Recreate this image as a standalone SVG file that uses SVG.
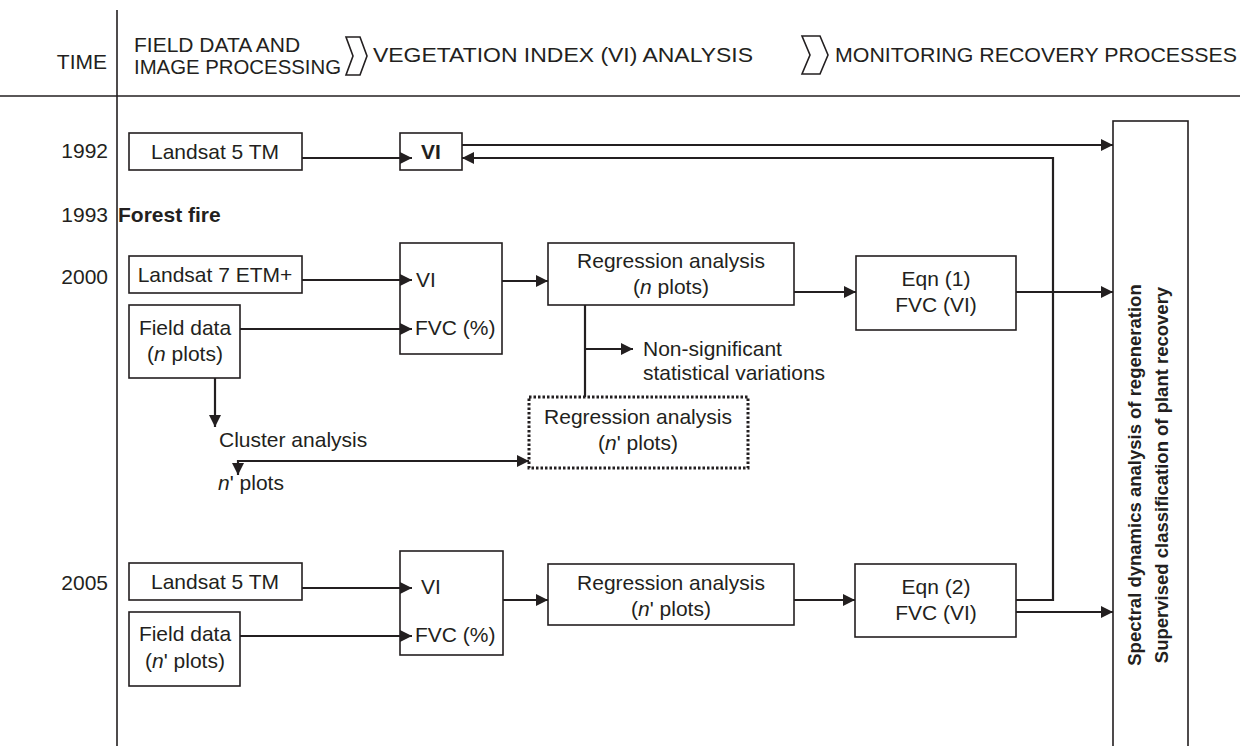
<svg xmlns="http://www.w3.org/2000/svg" width="1246" height="746" viewBox="0 0 1246 746">
<defs>
<marker id="ah" viewBox="0 0 12 12" refX="12" refY="6" markerWidth="12" markerHeight="12" markerUnits="userSpaceOnUse" orient="auto"><path d="M0,0 L12,6 L0,12 z" fill="#231f20"/></marker>
</defs>
<style>
text{font-family:"Liberation Sans",Arial,sans-serif;font-size:21px;fill:#231f20}
.b{font-weight:bold}
.m{text-anchor:middle}
.e{text-anchor:end}
.rot{font-size:18.5px;font-weight:bold;text-anchor:middle}
.box{fill:#fff;stroke:#231f20;stroke-width:1.6}
.dot{fill:#fff;stroke:#231f20;stroke-width:3;stroke-dasharray:2.5 2}
.ln{fill:none;stroke:#231f20;stroke-width:2.2}
.ar{fill:none;stroke:#231f20;stroke-width:2.2;marker-end:url(#ah)}
.rule{fill:none;stroke:#231f20;stroke-width:1.6}
</style>
<rect width="1246" height="746" fill="#fff"/>
<g id="header">
<line class="rule" x1="117" y1="10" x2="117" y2="746"/>
<line class="rule" x1="0" y1="96" x2="1240" y2="96"/>
<text class="e" x="107" y="69">TIME</text>
<text x="134" y="52">FIELD DATA AND</text>
<text x="134" y="74" textLength="207" lengthAdjust="spacingAndGlyphs">IMAGE PROCESSING</text>
<polygon class="rule" points="346,37 360,37 367,56 360,75 346,75 353,56"/>
<text x="373" y="62" textLength="380" lengthAdjust="spacingAndGlyphs">VEGETATION INDEX (VI) ANALYSIS</text>
<polygon class="rule" points="802,36 820,36 828,55 820,74 802,74 810,55"/>
<text x="835" y="62" textLength="402" lengthAdjust="spacingAndGlyphs">MONITORING RECOVERY PROCESSES</text>
</g>
<g id="years">
<text class="e" x="108" y="158">1992</text>
<text class="e" x="108" y="222">1993</text>
<text class="b" x="118" y="222">Forest fire</text>
<text class="e" x="108" y="284">2000</text>
<text class="e" x="108" y="590">2005</text>
</g>
<g id="landsat5-1992"><rect class="box" x="129" y="133" width="173" height="37"/><text class="m" x="215" y="159">Landsat 5 TM</text></g>
<g id="vi-1992"><rect class="box" x="400" y="133" width="62" height="37"/><text class="m b" x="431" y="159">VI</text></g>
<g id="landsat7-2000"><rect class="box" x="129" y="256" width="173" height="37"/><text class="m" x="215" y="282">Landsat 7 ETM+</text></g>
<g id="field-2000"><rect class="box" x="129" y="305" width="111" height="73"/><text class="m" x="185" y="335">Field data</text><text class="m" x="185" y="361">(<tspan font-style="italic">n</tspan> plots)</text></g>
<g id="vifvc-2000"><rect class="box" x="400" y="243" width="102" height="111"/><text x="416" y="287">VI</text><text x="415" y="335">FVC (%)</text></g>
<g id="reg-2000"><rect class="box" x="548" y="243" width="246" height="62"/><text class="m" x="671" y="268">Regression analysis</text><text class="m" x="671" y="294">(<tspan font-style="italic">n</tspan> plots)</text></g>
<g id="eqn1"><rect class="box" x="856" y="256" width="160" height="74"/><text class="m" x="936" y="286">Eqn (1)</text><text class="m" x="936" y="312">FVC (VI)</text></g>
<g id="nonsig"><text x="643" y="356">Non-significant</text><text x="643" y="380">statistical variations</text></g>
<g id="cluster"><text x="219" y="447">Cluster analysis</text></g>
<g id="nprime"><text x="218" y="490"><tspan font-style="italic">n</tspan>' plots</text></g>
<g id="reg-dotted"><rect class="dot" x="529" y="397" width="219" height="71"/><text class="m" x="638" y="424">Regression analysis</text><text class="m" x="638" y="450">(<tspan font-style="italic">n</tspan>' plots)</text></g>
<g id="landsat5-2005"><rect class="box" x="129" y="563" width="173" height="37"/><text class="m" x="215" y="589">Landsat 5 TM</text></g>
<g id="field-2005"><rect class="box" x="129" y="612" width="111" height="74"/><text class="m" x="185" y="641">Field data</text><text class="m" x="185" y="668">(<tspan font-style="italic">n</tspan>' plots)</text></g>
<g id="vifvc-2005"><rect class="box" x="400" y="551" width="103" height="104"/><text x="421" y="594">VI</text><text x="415" y="642">FVC (%)</text></g>
<g id="reg-2005"><rect class="box" x="548" y="564" width="246" height="61"/><text class="m" x="671" y="590">Regression analysis</text><text class="m" x="671" y="616">(<tspan font-style="italic">n</tspan>' plots)</text></g>
<g id="eqn2"><rect class="box" x="855" y="564" width="161" height="73"/><text class="m" x="936" y="594">Eqn (2)</text><text class="m" x="936" y="620">FVC (VI)</text></g>
<g id="monitoring"><rect class="box" x="1113" y="121" width="75" height="640"/>
<text class="rot" transform="translate(1141,475) rotate(-90)">Spectral dynamics analysis of regeneration</text>
<text class="rot" transform="translate(1168,475) rotate(-90)">Supervised classification of plant recovery</text></g>
<g id="connectors">
<line class="ar" x1="302" y1="158" x2="412" y2="158"/>
<line class="ar" x1="462" y1="145" x2="1113" y2="145"/>
<path class="ar" d="M1016,600 H1053 V158 H462"/>
<line class="ar" x1="302" y1="280" x2="412" y2="280"/>
<line class="ar" x1="240" y1="329" x2="412" y2="329"/>
<line class="ar" x1="502" y1="281" x2="548" y2="281"/>
<line class="ar" x1="794" y1="292" x2="856" y2="292"/>
<line class="ar" x1="1016" y1="292" x2="1113" y2="292"/>
<line class="ln" x1="585" y1="305" x2="585" y2="397"/>
<line class="ar" x1="585" y1="349" x2="633" y2="349"/>
<line class="ar" x1="215" y1="378" x2="215" y2="427"/>
<line class="ar" x1="238" y1="461" x2="529" y2="461"/>
<line class="ar" x1="238" y1="460" x2="238" y2="475"/>
<line class="ar" x1="302" y1="588" x2="412" y2="588"/>
<line class="ar" x1="240" y1="636" x2="412" y2="636"/>
<line class="ar" x1="503" y1="600" x2="548" y2="600"/>
<line class="ar" x1="794" y1="600" x2="855" y2="600"/>
<line class="ar" x1="1016" y1="612" x2="1113" y2="612"/>
</g>
</svg>
